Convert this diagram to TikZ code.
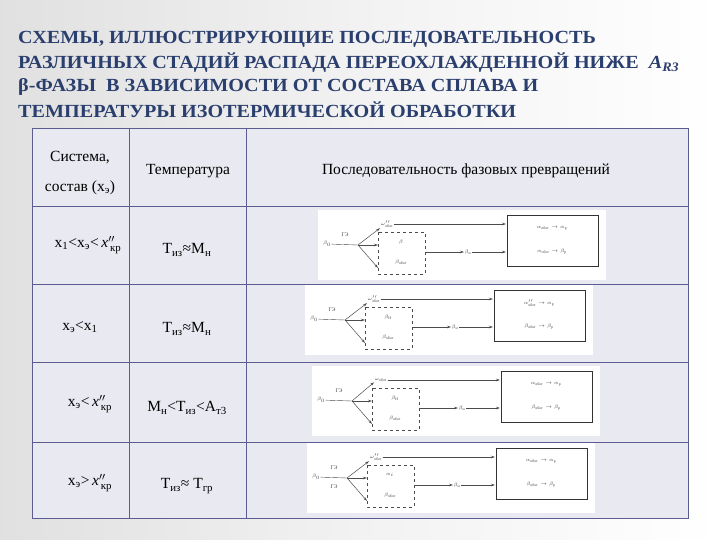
\documentclass[tikz,border=0pt]{standalone}
\usepackage{amsmath}
\usepackage{fontspec}
\setmainfont{Liberation Serif}
\usetikzlibrary{arrows.meta}
\definecolor{ttl}{HTML}{2B3F6E}
\definecolor{grid}{HTML}{5C5C90}
\definecolor{cell}{HTML}{E9E9F1}
\definecolor{pg}{HTML}{F2F2F2}
\newcommand{\ttxt}[1]{\scalebox{1.09}[1]{#1}}
\tikzset{
  tl/.style={anchor=west,font=\bfseries\fontsize{18.5}{20}\selectfont,text=ttl,inner sep=0pt},
  ct/.style={font=\fontsize{15.5}{17}\selectfont,align=center,inner sep=1pt},
  dl/.style={font=\fontsize{5.5}{6}\selectfont,inner sep=0.5pt,text=black!75},
  ar/.style={-{Stealth[length=4pt,width=2.5pt]},black!70,line width=0.5pt},
}
\newcommand{\mydiag}[7]{%
\begin{scope}[shift={(#1,#2)}]
 \fill[white] (0,0) rectangle (288,70);
 \node[dl] (b0) at (9,34) {$\beta_0$};
 \node[dl] (ge) at (27,25) {ГЭ};
 \coordinate (bp) at (40,35);
 \node[dl,anchor=west] (om) at (62,14) {#3};
 \draw[dashed,black!70,line width=0.6pt] (60,22) rectangle (107,64);
 \node[dl] (dbA) at (83,32) {#4};
 \node[dl] (dbB) at (83,52) {$\beta_{\text{обог}}$};
 \coordinate (dr) at (108,42);
 \node[dl] (bn) at (150,42) {$\beta_{\text{н}}$};
 \draw[black!80,line width=0.6pt] (189,5) rectangle (280,56);
 \coordinate (sbt) at (188,14);
 \coordinate (sbb) at (188,42);
 \node[dl] (r1) at (234,18) {#5};
 \node[dl] (r2) at (234,42) {#6};
 \draw[black!70] (b0) -- (bp);
 \draw[ar] (bp) -- (om.south west);
 \draw[ar] (bp) -- (60,35);
 \draw[ar] (bp) -- (60,58);
 \draw[ar] (om.east) -- (sbt);
 \draw[ar] (dr) -- (bn);
 \draw[ar] (bn) -- (sbb);
 #7
\end{scope}}
\begin{document}
\begin{tikzpicture}[x=1pt,y=-1pt]
\useasboundingbox (0,0) rectangle (720,540);
\shade[left color=black!12,right color=white,middle color=pg] (0,0) rectangle (720,540);
\node[tl] (t1) at (18,39) {\ttxt{СХЕМЫ, ИЛЛЮСТРИРУЮЩИЕ ПОСЛЕДОВАТЕЛЬНОСТЬ}};
\node[tl] (t2) at (18,63) {\ttxt{РАЗЛИЧНЫХ СТАДИЙ РАСПАДА ПЕРЕОХЛАЖДЕННОЙ НИЖЕ \ \textit{A}\textsubscript{\textit{R3}}}};
\node[tl] (t3) at (18,87) {\ttxt{β-ФАЗЫ \ В ЗАВИСИМОСТИ ОТ СОСТАВА СПЛАВА И}};
\node[tl] (t4) at (18,110) {\ttxt{ТЕМПЕРАТУРЫ ИЗОТЕРМИЧЕСКОЙ ОБРАБОТКИ}};
% table
\fill[cell] (32,128) rectangle (688,518);
\draw[grid,line width=0.7pt] (32,128) rectangle (688,518);
\foreach \y in {206,284,362,442} \draw[grid,line width=0.6pt] (32,\y) -- (688,\y);
\foreach \x in {129,246} \draw[grid,line width=0.6pt] (\x,128) -- (\x,518);
\node[ct] (h1) at (80,158) {Система,};
\node[ct] (h1b) at (80,188) {состав (x\textsubscript{э})};
\node[ct] (h2) at (188,171) {Температура};
\node[ct] (h3) at (466,171) {Последовательность фазовых превращений};
\node[ct] (c11) at (88,245) {x\textsubscript{1}<x\textsubscript{э}<\,\textit{x}$^{\prime\prime}_{\,\text{кр}}$};
\node[ct] (c12) at (187,250) {T\textsubscript{из}≈M\textsubscript{н}};
\node[ct] (c21) at (80,327) {x\textsubscript{э}<x\textsubscript{1}};
\node[ct] (c22) at (187,329) {T\textsubscript{из}≈M\textsubscript{н}};
\node[ct] (c31) at (90,404) {x\textsubscript{э}<\,\textit{x}$^{\prime\prime}_{\,\text{кр}}$};
\node[ct] (c32) at (187,408) {M\textsubscript{н}<T\textsubscript{из}<A\textsubscript{т3}};
\node[ct] (c41) at (90,483) {x\textsubscript{э}>\,\textit{x}$^{\prime\prime}_{\,\text{кр}}$};
\node[ct] (c42) at (187,486) {T\textsubscript{из}≈ T\textsubscript{гр}};
% diagrams
\mydiag{318}{210}{$\omega''_{\text{обог}}$}{$\beta$}{$\alpha_{\text{обог}}\to\alpha_{\text{р}}$}{$\alpha_{\text{обог}}\to\beta_{\text{р}}$}{}
\mydiag{305}{285}{$\omega''_{\text{обог}}$}{$\beta_{\text{Н}}$}{$\alpha''_{\text{обог}}\to\alpha_{\text{р}}$}{$\beta_{\text{обог}}\to\beta_{\text{р}}$}{}
\mydiag{312}{366}{$\omega_{\text{обог}}$}{$\beta_{\text{Н}}$}{$\alpha_{\text{обог}}\to\alpha_{\text{р}}$}{$\beta_{\text{обог}}\to\beta_{\text{р}}$}{}
\mydiag{307}{443}{$\omega''_{\text{обог}}$}{$\alpha_{i}$}{$\alpha_{\text{обог}}\to\alpha_{\text{р}}$}{$\beta_{\text{обог}}\to\beta_{\text{р}}$}{\node[dl] (ge2) at (27,44) {ГЭ};}
\end{tikzpicture}
\end{document}
